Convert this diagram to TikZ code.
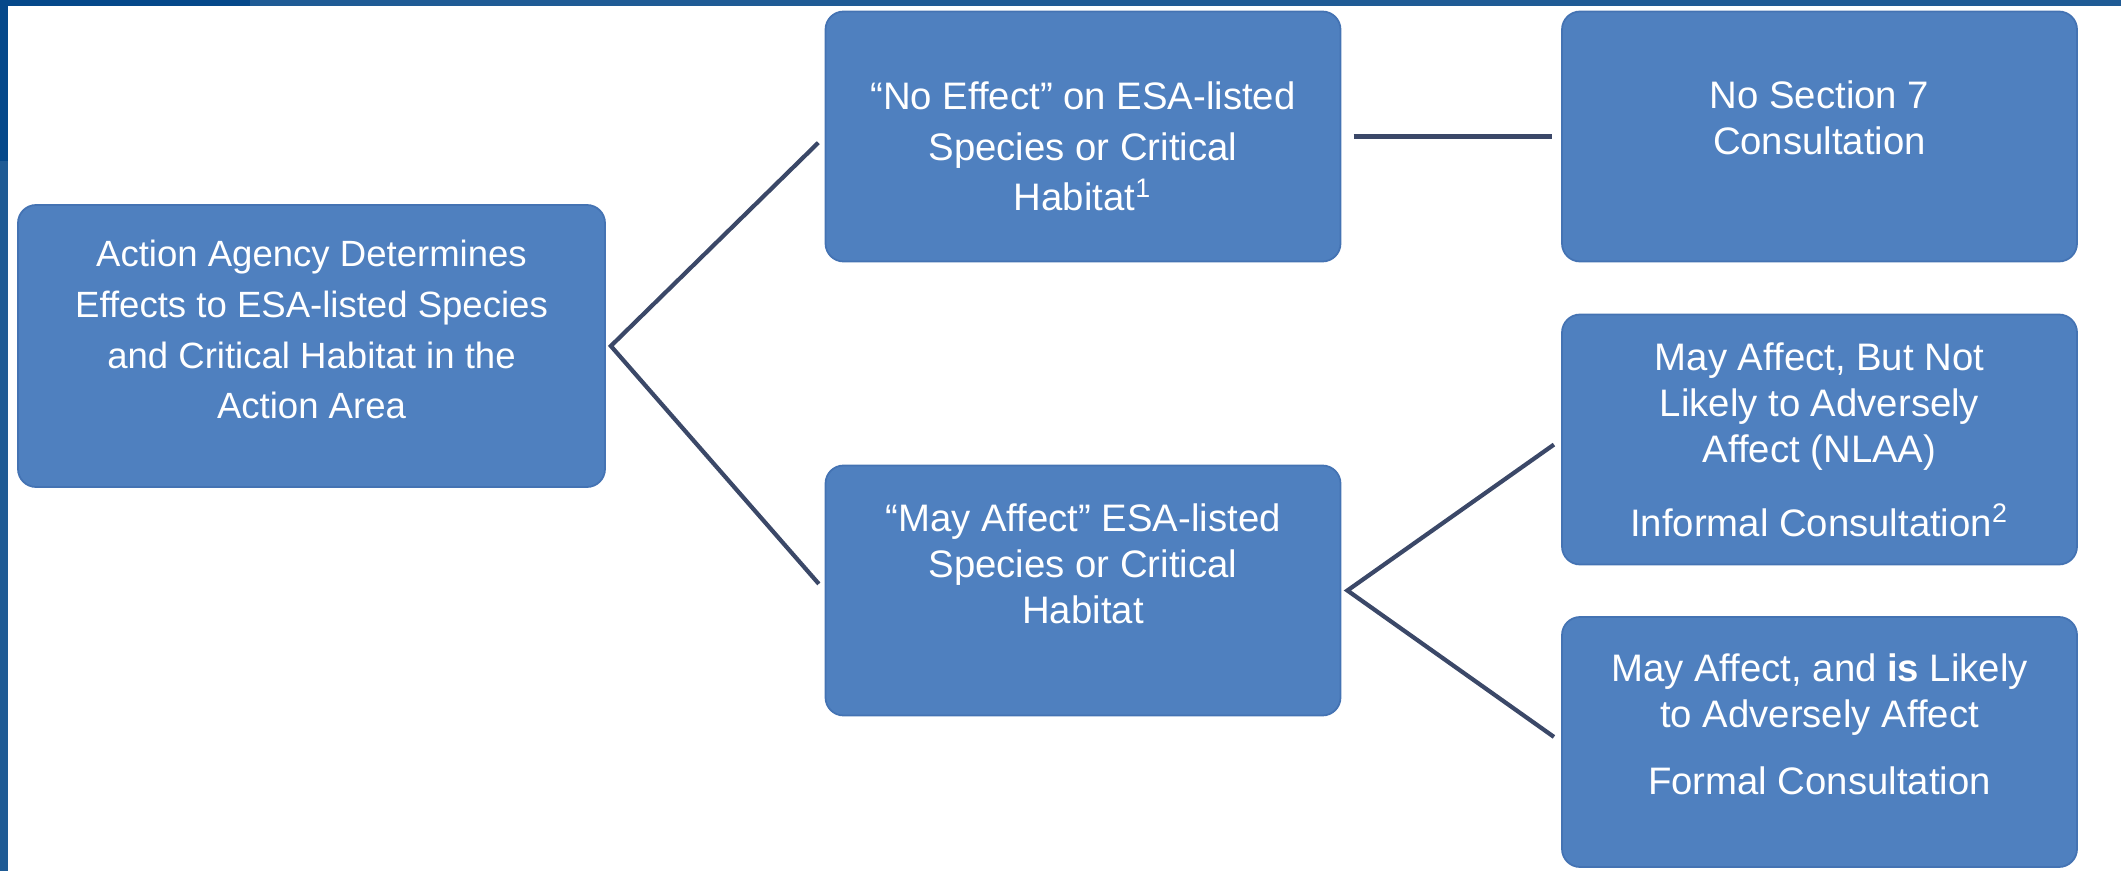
\documentclass[tikz,border=0pt]{standalone}
\usepackage{fontspec}
\setmainfont{Liberation Sans}
\definecolor{boxblue}{HTML}{4F80BF}
\definecolor{boxedge}{HTML}{4473B3}
\definecolor{linkgray}{HTML}{3B4868}
\definecolor{framebar}{HTML}{1F5B95}
\definecolor{framedark}{HTML}{05488A}
\begin{document}
\begin{tikzpicture}
            \tikzstyle{box} = [rectangle, rounded corners=0.18cm, fill=boxblue, draw=boxedge, line width=0.5pt, text=white, align=center, inner sep=2pt, minimum width=5.15cm, minimum height=2.5cm, font=\fontsize{10.9}{13.1}\selectfont]
            \tikzstyle{link} = [linkgray, line width=1.2pt, shorten <=2.5pt, shorten >=2.5pt]
            \def \midx{10.83}
            \def \rightx{18.195}

            \useasboundingbox (0,0) rectangle (21.21,8.71);
            % slide frame
            \fill[framebar] (0,8.65) rectangle (21.21,8.71);
            \fill[framebar] (0,0) rectangle (0.08,8.71);
            \fill[framedark] (0,8.65) rectangle (2.5,8.71);
            \fill[framedark] (0,7.1) rectangle (0.08,8.71);

            \node[box, minimum width=5.87cm, minimum height=2.82cm, font=\fontsize{10.4}{14.5}\selectfont] (agency) at (3.115,5.25) {Action Agency Determines\\Effects to ESA-listed Species\\and Critical Habitat in the\\Action Area\\[-5pt]\mbox{}};
            \node[box, font=\fontsize{10.9}{14.5}\selectfont] (noeffect) at (\midx,7.345) {\rule{0pt}{13.5pt}``No Effect'' on ESA-listed\\Species or Critical\\Habitat\textsuperscript{1}};
            \node[box] (mayaffect) at (\midx,2.805) {``May Affect'' ESA-listed\\Species or Critical\\Habitat\\[2.3pt]\mbox{}};
            \node[box] (nosection) at (\rightx,7.345) {No Section 7\\Consultation\\[-2.3pt]\mbox{}};
            \node[box] (nlaa) at (\rightx,4.315) {May Affect, But Not\\Likely to Adversely\\Affect (NLAA)\\[8pt]Informal Consultation\textsuperscript{2}};
            \node[box] (formal) at (\rightx,1.29) {May Affect, and \textbf{is} Likely\\to Adversely Affect\\[6pt]Formal Consultation\\[-3pt]\mbox{}};

            \coordinate (fork1) at ([xshift=0.05cm]agency.east);
            \coordinate (fork2) at ([xshift=0.06cm]mayaffect.east);

            \draw[link] (noeffect.west) -- (fork1) -- (mayaffect.west);
            \draw[link] (nlaa.west) -- (fork2) -- (formal.west);
            \draw[link, shorten <=3.5pt] (noeffect.east) -- (nosection.west);
        \end{tikzpicture}
\end{document}
